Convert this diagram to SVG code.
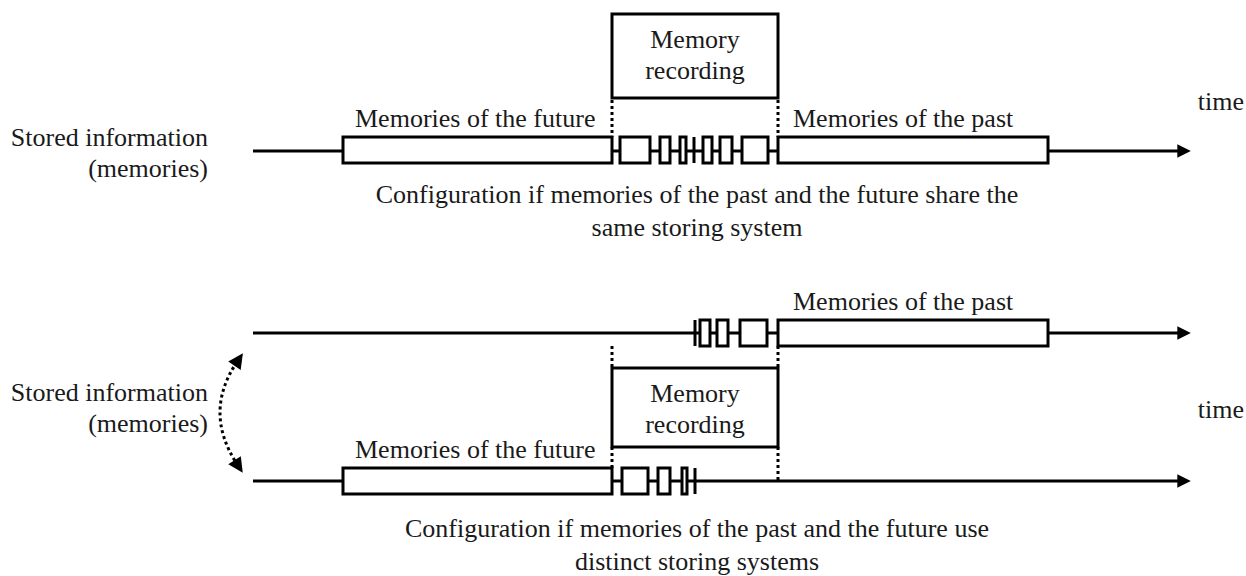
<svg xmlns="http://www.w3.org/2000/svg" width="1246" height="576" viewBox="0 0 1246 576">
<style>
text{font-family:"Liberation Serif","Times New Roman",serif;font-size:26px;fill:#1a1a1a}
.mid{text-anchor:middle}
.end{text-anchor:end}
.ln{stroke:#000;stroke-width:3;fill:none}
.bx{stroke:#000;stroke-width:3;fill:#fff}
.dot{stroke:#000;stroke-width:3;fill:none;stroke-dasharray:3 3}
</style>
<defs>
<marker id="ah" viewBox="0 0 10 10" refX="2" refY="5" markerWidth="5" markerHeight="4.5" orient="auto" markerUnits="strokeWidth">
<path d="M0,0 L10,5 L0,10 z" fill="#000"/>
</marker>
<marker id="ah2" viewBox="0 0 10 10" refX="3" refY="5" markerWidth="5.5" markerHeight="5" orient="auto-start-reverse" markerUnits="strokeWidth">
<path d="M0,0 L10,5 L0,10 z" fill="#000"/>
</marker>
</defs>
<rect width="1246" height="576" fill="#fff"/>
<g id="connectors">
<line class="ln" x1="253" y1="151" x2="1180" y2="151" marker-end="url(#ah)"/>
<line class="ln" x1="253" y1="333" x2="1180" y2="333" marker-end="url(#ah)"/>
<line class="ln" x1="253" y1="481" x2="1180" y2="481" marker-end="url(#ah)"/>
<line class="dot" x1="612" y1="100" x2="612" y2="137"/>
<line class="dot" x1="778" y1="100" x2="778" y2="137"/>
<line class="dot" x1="612" y1="346" x2="612" y2="368"/>
<line class="dot" x1="778" y1="346" x2="778" y2="368"/>
<line class="dot" x1="612" y1="447" x2="612" y2="468"/>
<line class="dot" x1="778" y1="447" x2="778" y2="481"/>
<path class="dot" d="M237,362 Q203,412 237,464" marker-start="url(#ah2)" marker-end="url(#ah2)"/>
</g>
<g id="top-label">
<text class="end" x="208" y="146">Stored information</text>
<text class="end" x="208" y="177">(memories)</text>
</g>
<g id="top-recording">
<rect class="bx" x="612" y="14" width="166" height="84"/>
<text class="mid" x="695" y="48">Memory</text>
<text class="mid" x="695" y="79">recording</text>
</g>
<g id="top-future">
<rect class="bx" x="343" y="137" width="269" height="26"/>
<text x="355" y="127">Memories of the future</text>
</g>
<g id="top-past">
<rect class="bx" x="778" y="137" width="270" height="26"/>
<text x="793" y="127">Memories of the past</text>
</g>
<g id="top-cells">
<rect class="bx" x="620" y="137" width="30" height="26"/>
<rect class="bx" x="660" y="137" width="10" height="26"/>
<rect class="bx" x="680" y="137" width="6" height="26"/>
<line class="ln" x1="694" y1="137" x2="694" y2="163"/>
<rect class="bx" x="703" y="137" width="9" height="26"/>
<rect class="bx" x="720" y="137" width="12" height="26"/>
<rect class="bx" x="742" y="137" width="26" height="26"/>
</g>
<g id="top-time"><text class="end" x="1244" y="110">time</text></g>
<g id="top-caption">
<text class="mid" x="697" y="203">Configuration if memories of the past and the future share the</text>
<text class="mid" x="697" y="236">same storing system</text>
</g>
<g id="bottom-past">
<rect class="bx" x="778" y="320" width="270" height="26"/>
<text x="793" y="310">Memories of the past</text>
</g>
<g id="bottom-past-cells">
<line class="ln" x1="695" y1="320" x2="695" y2="346"/>
<rect class="bx" x="700" y="320" width="10" height="26"/>
<rect class="bx" x="717" y="320" width="11" height="26"/>
<rect class="bx" x="740" y="320" width="27" height="26"/>
</g>
<g id="bottom-label">
<text class="end" x="208" y="401">Stored information</text>
<text class="end" x="208" y="432">(memories)</text>
</g>
<g id="bottom-recording">
<rect class="bx" x="612" y="368" width="166" height="79"/>
<text class="mid" x="695" y="402">Memory</text>
<text class="mid" x="695" y="433">recording</text>
</g>
<g id="bottom-future">
<rect class="bx" x="343" y="468" width="269" height="26"/>
<text x="355" y="458">Memories of the future</text>
</g>
<g id="bottom-future-cells">
<rect class="bx" x="622" y="468" width="26" height="26"/>
<rect class="bx" x="658" y="468" width="12" height="26"/>
<rect class="bx" x="682" y="468" width="5" height="26"/>
<line class="ln" x1="695" y1="468" x2="695" y2="494"/>
</g>
<g id="bottom-time"><text class="end" x="1244" y="418">time</text></g>
<g id="bottom-caption">
<text class="mid" x="697" y="537">Configuration if memories of the past and the future use</text>
<text class="mid" x="697" y="570">distinct storing systems</text>
</g>
</svg>
